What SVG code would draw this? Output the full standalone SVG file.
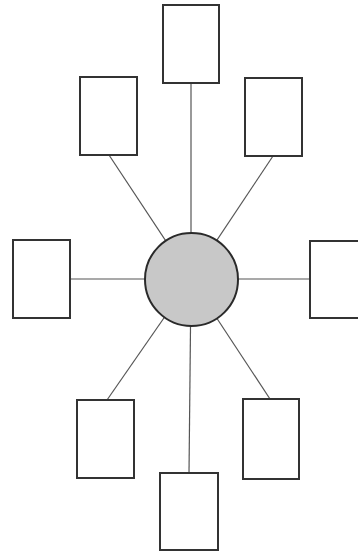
<svg xmlns="http://www.w3.org/2000/svg" width="358" height="552" viewBox="0 0 358 552">
<style>
.box{fill:#fff;stroke:#333;stroke-width:2}
.edge{stroke:#555;stroke-width:1.2;fill:none}
.hub{fill:#c8c8c8;stroke:#2a2a2a;stroke-width:2}
</style>
<rect width="358" height="552" fill="#fff"/>
<g id="connectors">
<line class="edge" x1="191" y1="83" x2="191" y2="279"/>
<line class="edge" x1="109" y1="155" x2="191" y2="279"/>
<line class="edge" x1="273" y1="156" x2="191" y2="279"/>
<line class="edge" x1="70" y1="279" x2="191" y2="279"/>
<line class="edge" x1="310" y1="279" x2="191" y2="279"/>
<line class="edge" x1="107" y1="400" x2="191" y2="279"/>
<line class="edge" x1="270" y1="399" x2="191" y2="279"/>
<line class="edge" x1="189" y1="473" x2="191" y2="279"/>
</g>
<g id="hub"><circle class="hub" cx="191.5" cy="279.5" r="46.5"/></g>
<g id="n-top"><rect class="box" x="163" y="5" width="56" height="78"/></g>
<g id="n-topleft"><rect class="box" x="80" y="77" width="57" height="78"/></g>
<g id="n-topright"><rect class="box" x="245" y="78" width="57" height="78"/></g>
<g id="n-left"><rect class="box" x="13" y="240" width="57" height="78"/></g>
<g id="n-right"><rect class="box" x="310" y="241" width="57" height="77"/></g>
<g id="n-bottomleft"><rect class="box" x="77" y="400" width="57" height="78"/></g>
<g id="n-bottomright"><rect class="box" x="243" y="399" width="56" height="80"/></g>
<g id="n-bottom"><rect class="box" x="160" y="473" width="58" height="77"/></g>
</svg>
